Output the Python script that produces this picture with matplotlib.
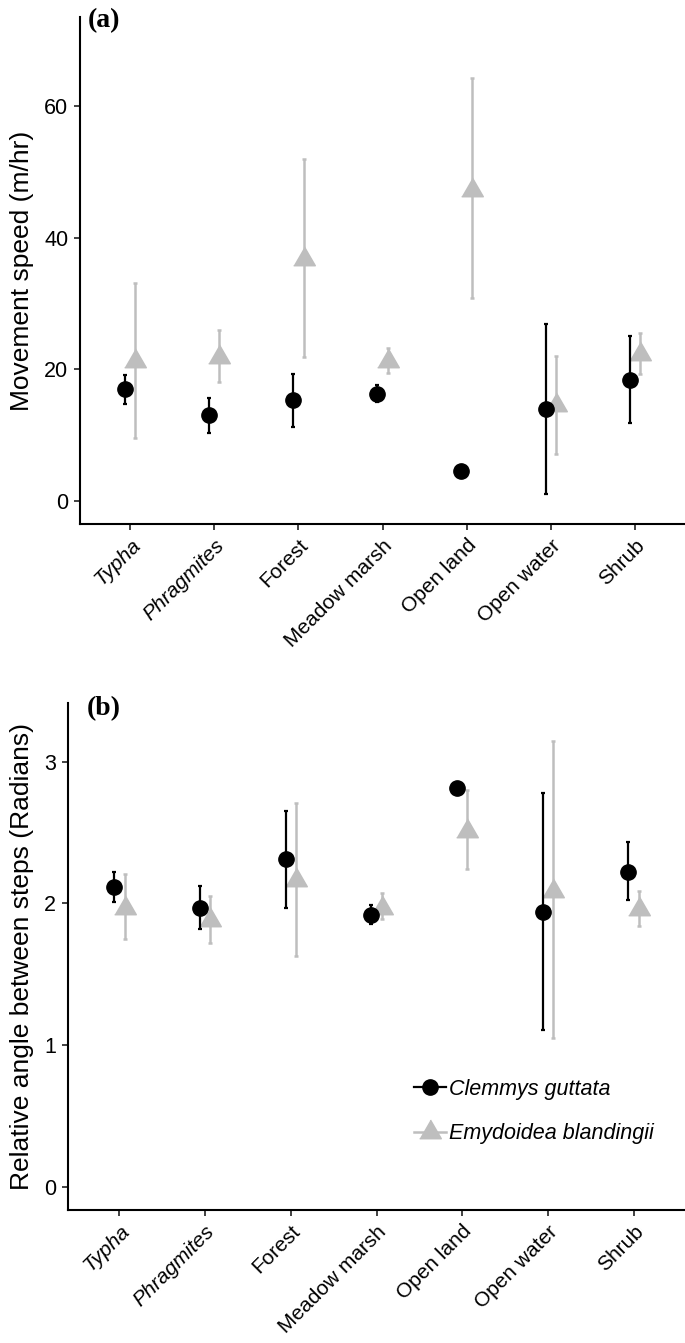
import numpy as np
from matplotlib import pyplot as plt
from matplotlib.lines import Line2D

habitats = ["Typha", "Phragmites", "Forest", "Meadow marsh", "Open land", "Open water", "Shrub"]
italic_habitats = ["Typha", "Phragmites"]

# movement speed (m/hr)
speed_cg = [17.0, 13.0, 15.3, 16.3, 4.6, 13.9, 18.4]
speed_cg_lo = [14.7, 10.3, 11.3, 15.0, 4.6, 1.0, 11.8]
speed_cg_hi = [19.2, 15.7, 19.3, 17.6, 4.6, 26.9, 25.0]
speed_eb = [21.2, 21.9, 36.8, 21.2, 47.3, 14.6, 22.3]
speed_eb_lo = [9.5, 18.1, 21.8, 19.4, 30.8, 7.2, 19.3]
speed_eb_hi = [33.1, 26.0, 51.9, 23.3, 64.2, 22.0, 25.5]

# relative angle between steps (radians)
angle_cg = [2.115, 1.965, 2.31, 1.92, 2.81, 1.94, 2.22]
angle_cg_lo = [2.01, 1.817, 1.97, 1.855, 2.81, 1.11, 2.02]
angle_cg_hi = [2.22, 2.125, 2.65, 1.99, 2.81, 2.78, 2.43]
angle_eb = [1.97, 1.88, 2.165, 1.97, 2.51, 2.09, 1.96]
angle_eb_lo = [1.75, 1.72, 1.63, 1.89, 2.24, 1.05, 1.84]
angle_eb_hi = [2.21, 2.05, 2.71, 2.07, 2.80, 3.145, 2.09]

species = ["Clemmys guttata", "Emydoidea blandingii"]

plt.rcParams["font.family"] = ["Liberation Sans", "DejaVu Sans"]

GREY = "#bebebe"
tri = [(0, 1.555), (1.347, -0.778), (-1.347, -0.778)]
dodge = 0.06


def panel(ax, cg, cg_lo, cg_hi, eb, eb_lo, eb_hi, yticks, ylim, ylabel):
    x = np.arange(1, len(habitats) + 1)
    eb = np.array(eb)
    cg = np.array(cg)
    ax.errorbar(x + dodge, eb, yerr=[eb - np.array(eb_lo), np.array(eb_hi) - eb],
                fmt="none", ecolor=GREY, elinewidth=1.8, capsize=1.6, capthick=1.8)
    ax.plot(x + dodge, eb, linestyle="none", marker=tri, markersize=18, color=GREY)
    ax.errorbar(x - dodge, cg, yerr=[cg - np.array(cg_lo), np.array(cg_hi) - cg],
                fmt="none", ecolor="black", elinewidth=1.6, capsize=1.6, capthick=1.6)
    ax.plot(x - dodge, cg, linestyle="none", marker="o", markersize=11, color="black")

    ax.set_xlim(0.4, 7.6)
    ax.set_ylim(*ylim)
    ax.set_yticks(yticks)
    ax.set_xticks(x)
    ax.set_xticklabels(habitats, rotation=45, ha="right", va="top",
                       rotation_mode="anchor", fontsize=15)
    for lab in ax.get_xticklabels():
        if lab.get_text() in italic_habitats:
            lab.set_fontstyle("italic")
    ax.tick_params(axis="y", labelsize=15.5)
    ax.tick_params(direction="out", length=4.5, width=1.3, color="#333333", pad=4)
    for s in ["top", "right"]:
        ax.spines[s].set_visible(False)
    for s in ["left", "bottom"]:
        ax.spines[s].set_linewidth(1.5)
    ax.set_ylabel(ylabel, fontsize=19, labelpad=7)


fig = plt.figure(figsize=(6.85, 13.43), dpi=100)

ax1 = fig.add_axes([80 / 685, 1 - 524 / 1343, 605 / 685, 507 / 1343])
panel(ax1, speed_cg, speed_cg_lo, speed_cg_hi, speed_eb, speed_eb_lo, speed_eb_hi,
      [0, 20, 40, 60], (-3.5, 73.5), "Movement speed (m/hr)")

ax2 = fig.add_axes([68 / 685, 1 - 1210 / 1343, 617 / 685, 507 / 1343])
panel(ax2, angle_cg, angle_cg_lo, angle_cg_hi, angle_eb, angle_eb_lo, angle_eb_hi,
      [0, 1, 2, 3], (-0.1625, 3.4125), "Relative angle between steps (Radians)")

fig.text(88 / 685, 1 - 8 / 1343, "(a)", fontsize=20, fontweight="bold",
         family="Liberation Serif", va="top", ha="left")
fig.text(87 / 685, 1 - 696 / 1343, "(b)", fontsize=20, fontweight="bold",
         family="Liberation Serif", va="top", ha="left")

handles = [
    Line2D([], [], color="black", lw=1.6, marker="o", markersize=11),
    Line2D([], [], color=GREY, lw=1.8, marker=tri, markersize=18),
]
leg = ax2.legend(handles, species, loc="upper left", bbox_to_anchor=(0.543, 0.28),
                 frameon=False, fontsize=15.5, handlelength=1.5, handletextpad=0.15,
                 labelspacing=1.1, borderpad=0)
for t in leg.get_texts():
    t.set_fontstyle("italic")

fig.savefig("out.png", dpi=100)
